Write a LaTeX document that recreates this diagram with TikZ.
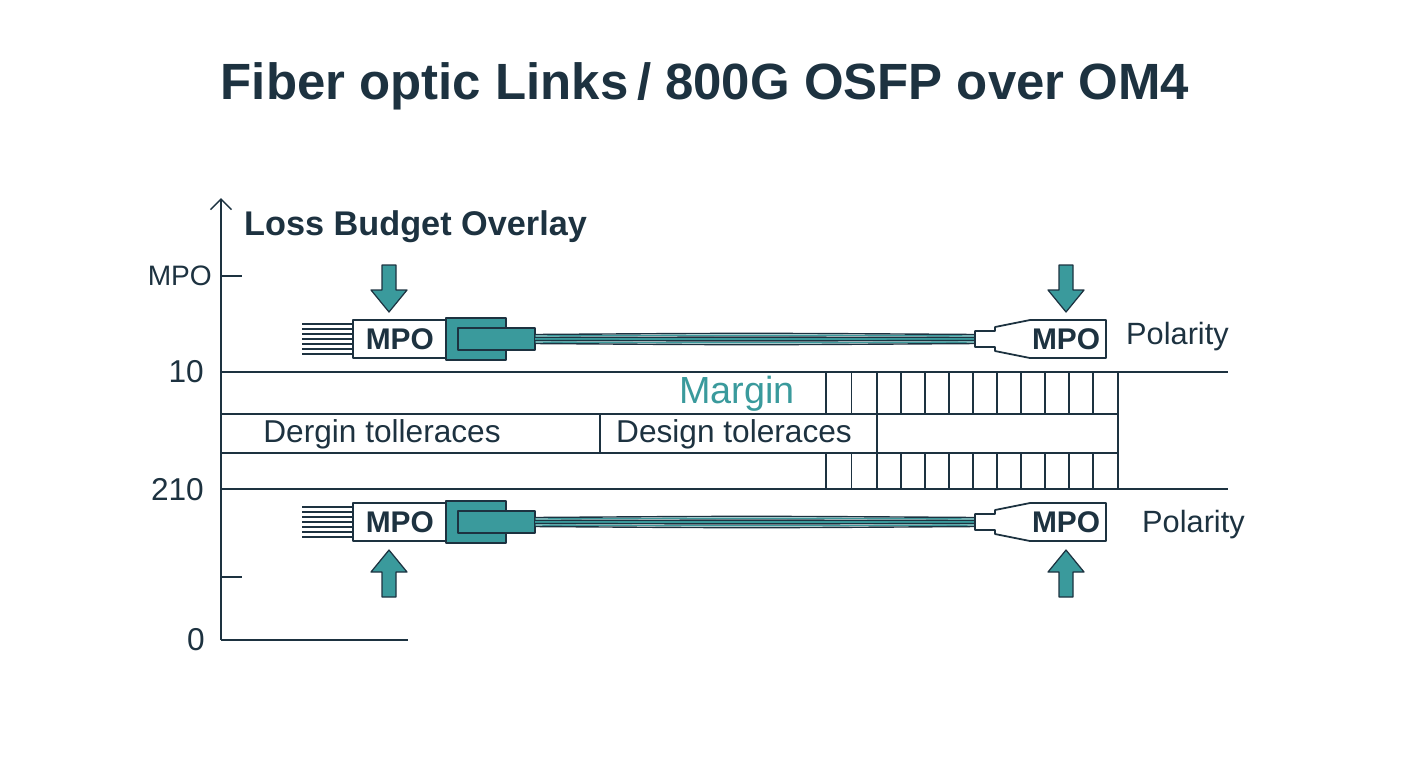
\documentclass[tikz,border=0pt]{standalone}
\usepackage{fontspec}
\setmainfont{Liberation Sans}
\usetikzlibrary{arrows.meta,positioning}
\definecolor{ink}{HTML}{1D3240}
\definecolor{linkteal}{HTML}{3A9A9C}

\begin{document}
\begin{tikzpicture}[x=0.02cm, y=-0.02cm, line join=round,
    every node/.style={text=ink},
    line/.style={draw=ink, line width=0.9pt},
    mpobox/.style={draw=ink, line width=1pt, fill=white, font=\bfseries\fontsize{17}{17}\selectfont},
    bigarrow/.style={fill=linkteal, draw=ink, line width=0.7pt},
    lbl/.style={font=\fontsize{18}{18}\selectfont}]
    % Define macros
    \newcommand{\plugleft}[2]{% y-centre, name
        \foreach \k in {-3,...,3} \draw[ink, line width=0.6pt] (302,#1+\k*5) -- (352,#1+\k*5);
        \node[mpobox, minimum width=94*0.02cm, minimum height=38*0.02cm, anchor=west] (#2l) at (352,#1) {MPO};
        \draw[ink, line width=1pt, fill=linkteal] (446,#1-21) rectangle (506,#1+21);
        \draw[ink, line width=1pt, fill=linkteal] (458,#1-11) rectangle (535,#1+11);
        \foreach \k/\c in {-3/ink,-2/linkteal,-1/ink,0/linkteal,1/ink,2/linkteal,3/ink} \draw[\c, line width=0.8pt] (535,#1+\k*1.5) .. controls (750,#1+\k*2) .. (975,#1+\k*1.5);
        \draw[ink, line width=1pt, fill=white] (975,#1-8) -- (995,#1-8) -- (995,#1-12) -- (1030,#1-19) -- (1106,#1-19) -- (1106,#1+19) -- (1030,#1+19) -- (995,#1+12) -- (995,#1+8) -- (975,#1+8) -- cycle;
        \node[font=\bfseries\fontsize{17}{17}\selectfont] (#2r) at (1066,#1) {MPO};
    }
    \newcommand{\pointdown}[2]{\draw[bigarrow] (#1-7,#2) -- (#1+7,#2) -- (#1+7,#2+25) -- (#1+18,#2+25) -- (#1,#2+47) -- (#1-18,#2+25) -- (#1-7,#2+25) -- cycle;}
    \newcommand{\pointup}[2]{\draw[bigarrow] (#1-7,#2) -- (#1+7,#2) -- (#1+7,#2-25) -- (#1+18,#2-25) -- (#1,#2-47) -- (#1-18,#2-25) -- (#1-7,#2-25) -- cycle;}

    \useasboundingbox (0,0) rectangle (1408,768);

    % Title
    \node[font=\bfseries\fontsize{29}{29}\selectfont] (title) at (705,86) {Fiber optic Links\,/ 800G OSFP over OM4};

    % Axis
    \coordinate (origin) at (221,640);
    \coordinate (ytop) at (221,198);
    \coordinate (xend) at (408,640);
    \draw[line, -{Straight Barb[length=6pt]}] (origin) -- (ytop);
    \draw[line] (origin) -- (xend);
    \draw[line] (221,276) -- (242,276);
    \draw[line] (221,577) -- (242,577);
    \node[font=\fontsize{16}{16}\selectfont, anchor=east] (tmpo) at (218,276) {MPO};
    \node[lbl, anchor=east] (t10) at (210,372) {10};
    \node[lbl, anchor=east] (t210) at (210,490) {210};
    \node[lbl] (t0) at (196,640) {0};
    \node[font=\bfseries\fontsize{19.5}{19.5}\selectfont, anchor=west] (overlay) at (238,227) {Loss Budget Overlay};

    % Budget bands
    \draw[line] (221,372) -- (1228,372);
    \draw[line] (221,489) -- (1228,489);
    \draw[line] (221,414) -- (1118,414);
    \draw[line] (221,453) -- (1118,453);
    \draw[line] (600,414) -- (600,453);
    \draw[line] (877,414) -- (877,453);
    \draw[line] (1118,372) -- (1118,489);
    \foreach \x in {826,851.5,877,901,925,949,973,997,1021,1045,1069,1093} {
        \draw[line] (\x,372) -- (\x,414);
        \draw[line] (\x,453) -- (\x,489);
    }
    \node[font=\fontsize{21.5}{21.5}\selectfont, text=linkteal] (margin) at (737,394) {Margin};
    \node[lbl] (dergin) at (382,434) {Dergin tolleraces};
    \node[lbl] (design) at (734,434) {Design toleraces};

    % Links
    \plugleft{339}{top}
    \plugleft{522}{bot}
    \node[font=\fontsize{17.5}{17.5}\selectfont, anchor=west] (poltop) at (1120,337) {Polarity};
    \node[font=\fontsize{17.5}{17.5}\selectfont, anchor=west] (polbot) at (1136,525) {Polarity};
    \pointdown{389}{265}
    \pointdown{1066}{265}
    \pointup{389}{597}
    \pointup{1066}{597}
\end{tikzpicture}
\end{document}
